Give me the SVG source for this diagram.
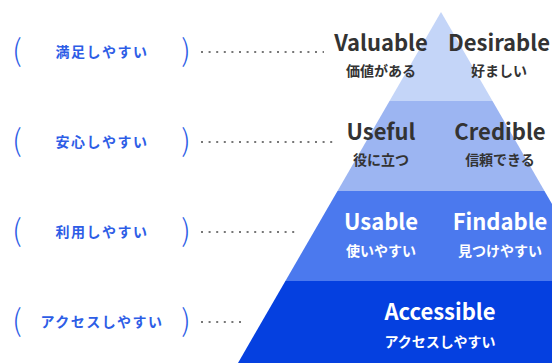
<svg xmlns="http://www.w3.org/2000/svg" width="552" height="363" viewBox="0 0 552 363">
<style>
.en{font-family:"Noto Sans CJK JP","Noto Sans",sans-serif;font-weight:700;font-size:22px;text-anchor:middle;fill:#333}
.jp{font-family:"Noto Sans CJK JP",sans-serif;font-weight:700;font-size:14px;text-anchor:middle;fill:#333}
.w{fill:#fff}
.lbl{font-family:"Noto Sans CJK JP",sans-serif;font-weight:700;font-size:14px;letter-spacing:1.5px;text-anchor:middle;fill:#2d5de6}
.par{font-family:"Noto Sans CJK JP",sans-serif;font-weight:300;font-size:30px;text-anchor:middle;fill:#2d5de6}
.dot{stroke:#777;stroke-width:2;stroke-dasharray:2 5.6;fill:none}
</style>
<rect width="552" height="363" fill="#fff"/>
<g id="pyramid">
<polygon points="441,12 492.5,101 389.5,101" fill="#c4d5f8"/>
<polygon points="389.5,101 492.5,101 544.5,191 337.5,191" fill="#9cb5f2"/>
<polygon points="337.5,191 544.5,191 596.6,281 285.4,281" fill="#4b79ee"/>
<polygon points="285.4,281 596.6,281 644,363 238,363" fill="#0540e0"/>
</g>
<g id="connectors">
<line class="dot" x1="201" y1="52" x2="324" y2="52"/>
<line class="dot" x1="201" y1="142" x2="334" y2="142"/>
<line class="dot" x1="201" y1="232" x2="299" y2="232"/>
<line class="dot" x1="201" y1="322" x2="246" y2="322"/>
</g>
<g id="label-satisfy">
<text class="par" x="17" y="61">(</text>
<text class="lbl" x="102" y="57">満足しやすい</text>
<text class="par" x="186" y="61">)</text>
</g>
<g id="label-trust">
<text class="par" x="17" y="151">(</text>
<text class="lbl" x="102" y="147">安心しやすい</text>
<text class="par" x="186" y="151">)</text>
</g>
<g id="label-use">
<text class="par" x="17" y="241">(</text>
<text class="lbl" x="102" y="237">利用しやすい</text>
<text class="par" x="186" y="241">)</text>
</g>
<g id="label-access">
<text class="par" x="17" y="331">(</text>
<text class="lbl" x="102" y="327">アクセスしやすい</text>
<text class="par" x="186" y="331">)</text>
</g>
<g id="valuable">
<text class="en" x="381" y="51">Valuable</text>
<text class="jp" x="381" y="76">価値がある</text>
</g>
<g id="desirable">
<text class="en" x="499" y="51">Desirable</text>
<text class="jp" x="499" y="76">好ましい</text>
</g>
<g id="useful">
<text class="en" x="381" y="140">Useful</text>
<text class="jp" x="381" y="165">役に立つ</text>
</g>
<g id="credible">
<text class="en" x="500" y="140">Credible</text>
<text class="jp" x="500" y="165">信頼できる</text>
</g>
<g id="usable">
<text class="en w" x="381" y="230">Usable</text>
<text class="jp w" x="381" y="256">使いやすい</text>
</g>
<g id="findable">
<text class="en w" x="500" y="230">Findable</text>
<text class="jp w" x="500" y="256">見つけやすい</text>
</g>
<g id="accessible">
<text class="en w" x="440" y="320">Accessible</text>
<text class="jp w" x="440" y="347">アクセスしやすい</text>
</g>
</svg>
